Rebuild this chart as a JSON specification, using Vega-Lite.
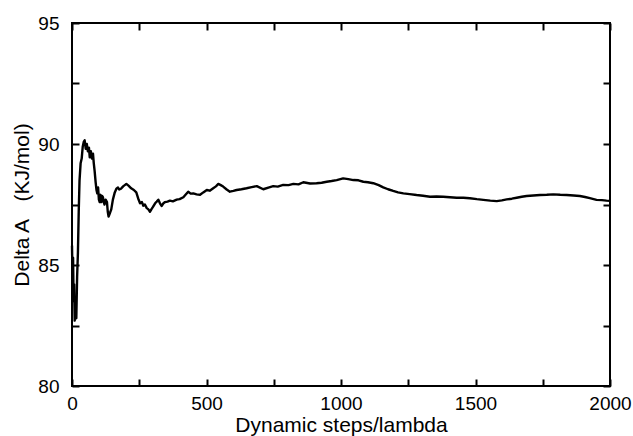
{
  "$schema": "https://vega.github.io/schema/vega-lite/v6.json",
  "width": 538,
  "height": 363,
  "autosize": "none",
  "padding": {"left": 72, "top": 23, "right": 23, "bottom": 50},
  "background": "white",
  "config": {
    "view": {"stroke": "black", "strokeWidth": 2},
    "axis": {
      "domain": false,
      "tickColor": "black",
      "tickWidth": 2,
      "tickSize": 7,
      "offset": -7,
      "grid": false,
      "labelFont": "Liberation Sans",
      "labelFontSize": 19,
      "labelColor": "black",
      "titleFont": "Liberation Sans",
      "titleFontSize": 21,
      "titleFontWeight": "normal",
      "titleColor": "black"
    }
  },
  "data": {
    "values": [
      {"step": 0, "dA": 85.8}, {"step": 2, "dA": 84.5}, {"step": 4, "dA": 85.3}, {"step": 6, "dA": 83.5},
      {"step": 8, "dA": 84.2}, {"step": 10, "dA": 82.7}, {"step": 13, "dA": 83.6}, {"step": 16, "dA": 82.8},
      {"step": 19, "dA": 84.5}, {"step": 22, "dA": 85.5}, {"step": 25, "dA": 87.2}, {"step": 28, "dA": 88.5},
      {"step": 32, "dA": 89.2}, {"step": 36, "dA": 89.4}, {"step": 40, "dA": 89.9}, {"step": 44, "dA": 90.1},
      {"step": 47, "dA": 90.15}, {"step": 51, "dA": 89.8}, {"step": 55, "dA": 90.0}, {"step": 59, "dA": 89.7},
      {"step": 63, "dA": 89.85}, {"step": 66, "dA": 89.45}, {"step": 70, "dA": 89.7}, {"step": 74, "dA": 89.4},
      {"step": 78, "dA": 89.6}, {"step": 81, "dA": 89.2}, {"step": 84, "dA": 88.9}, {"step": 88, "dA": 88.4},
      {"step": 91, "dA": 88.1}, {"step": 94, "dA": 87.96}, {"step": 97, "dA": 88.2}, {"step": 100, "dA": 87.7},
      {"step": 103, "dA": 87.6}, {"step": 106, "dA": 87.9}, {"step": 109, "dA": 87.6}, {"step": 112, "dA": 87.85},
      {"step": 115, "dA": 87.8}, {"step": 118, "dA": 87.6}, {"step": 121, "dA": 87.5}, {"step": 125, "dA": 87.7},
      {"step": 130, "dA": 87.6}, {"step": 133, "dA": 87.2}, {"step": 136, "dA": 87.0}, {"step": 141, "dA": 87.15},
      {"step": 146, "dA": 87.3}, {"step": 152, "dA": 87.7}, {"step": 159, "dA": 88.0}, {"step": 165, "dA": 88.15},
      {"step": 171, "dA": 88.2}, {"step": 176, "dA": 88.12}, {"step": 182, "dA": 88.15}, {"step": 190, "dA": 88.25},
      {"step": 196, "dA": 88.3}, {"step": 202, "dA": 88.35}, {"step": 210, "dA": 88.28}, {"step": 220, "dA": 88.17},
      {"step": 230, "dA": 88.1}, {"step": 239, "dA": 88.0}, {"step": 246, "dA": 87.75}, {"step": 253, "dA": 87.55},
      {"step": 260, "dA": 87.6}, {"step": 265, "dA": 87.45}, {"step": 271, "dA": 87.5}, {"step": 278, "dA": 87.35},
      {"step": 284, "dA": 87.3}, {"step": 290, "dA": 87.2}, {"step": 295, "dA": 87.3}, {"step": 301, "dA": 87.4},
      {"step": 309, "dA": 87.55}, {"step": 315, "dA": 87.62}, {"step": 321, "dA": 87.7}, {"step": 327, "dA": 87.55},
      {"step": 333, "dA": 87.44}, {"step": 340, "dA": 87.55}, {"step": 346, "dA": 87.6}, {"step": 355, "dA": 87.62},
      {"step": 364, "dA": 87.66}, {"step": 375, "dA": 87.63}, {"step": 389, "dA": 87.7}, {"step": 400, "dA": 87.72},
      {"step": 414, "dA": 87.8}, {"step": 422, "dA": 87.9}, {"step": 432, "dA": 88.03}, {"step": 441, "dA": 87.95},
      {"step": 451, "dA": 87.96}, {"step": 463, "dA": 87.92}, {"step": 476, "dA": 87.9}, {"step": 488, "dA": 88.0},
      {"step": 501, "dA": 88.1}, {"step": 512, "dA": 88.07}, {"step": 525, "dA": 88.17}, {"step": 535, "dA": 88.25},
      {"step": 544, "dA": 88.35}, {"step": 553, "dA": 88.3}, {"step": 562, "dA": 88.24}, {"step": 575, "dA": 88.12},
      {"step": 587, "dA": 88.03}, {"step": 600, "dA": 88.06}, {"step": 612, "dA": 88.1}, {"step": 630, "dA": 88.13},
      {"step": 649, "dA": 88.17}, {"step": 668, "dA": 88.22}, {"step": 687, "dA": 88.26}, {"step": 711, "dA": 88.13},
      {"step": 730, "dA": 88.2}, {"step": 748, "dA": 88.26}, {"step": 765, "dA": 88.24}, {"step": 785, "dA": 88.31},
      {"step": 805, "dA": 88.3}, {"step": 823, "dA": 88.35}, {"step": 842, "dA": 88.33}, {"step": 860, "dA": 88.42},
      {"step": 885, "dA": 88.37}, {"step": 909, "dA": 88.38}, {"step": 928, "dA": 88.4}, {"step": 947, "dA": 88.44},
      {"step": 965, "dA": 88.47}, {"step": 984, "dA": 88.51}, {"step": 1008, "dA": 88.58}, {"step": 1027, "dA": 88.55},
      {"step": 1046, "dA": 88.51}, {"step": 1065, "dA": 88.5}, {"step": 1083, "dA": 88.44}, {"step": 1100, "dA": 88.42},
      {"step": 1120, "dA": 88.38}, {"step": 1140, "dA": 88.3}, {"step": 1157, "dA": 88.21}, {"step": 1175, "dA": 88.13},
      {"step": 1194, "dA": 88.06}, {"step": 1212, "dA": 88.0}, {"step": 1232, "dA": 87.96}, {"step": 1255, "dA": 87.93},
      {"step": 1281, "dA": 87.89}, {"step": 1305, "dA": 87.86}, {"step": 1331, "dA": 87.82}, {"step": 1355, "dA": 87.83},
      {"step": 1380, "dA": 87.82}, {"step": 1405, "dA": 87.8}, {"step": 1430, "dA": 87.78}, {"step": 1455, "dA": 87.78},
      {"step": 1479, "dA": 87.76}, {"step": 1505, "dA": 87.72}, {"step": 1529, "dA": 87.69}, {"step": 1555, "dA": 87.66},
      {"step": 1579, "dA": 87.64}, {"step": 1598, "dA": 87.67}, {"step": 1616, "dA": 87.71}, {"step": 1635, "dA": 87.74},
      {"step": 1653, "dA": 87.78}, {"step": 1672, "dA": 87.82}, {"step": 1690, "dA": 87.85}, {"step": 1715, "dA": 87.87},
      {"step": 1740, "dA": 87.89}, {"step": 1765, "dA": 87.9}, {"step": 1789, "dA": 87.92}, {"step": 1815, "dA": 87.9},
      {"step": 1839, "dA": 87.89}, {"step": 1865, "dA": 87.87}, {"step": 1888, "dA": 87.85}, {"step": 1907, "dA": 87.81},
      {"step": 1925, "dA": 87.76}, {"step": 1950, "dA": 87.69}, {"step": 1970, "dA": 87.68}, {"step": 1987, "dA": 87.66},
      {"step": 2000, "dA": 87.65}
    ]
  },
  "layer": [
    {
      "mark": {"type": "line", "color": "black", "strokeWidth": 2.4, "strokeJoin": "round"},
      "encoding": {
        "x": {
          "field": "step", "type": "quantitative",
          "scale": {"domain": [0, 2000], "nice": false},
          "axis": {
            "orient": "bottom",
            "title": "Dynamic steps/lambda",
            "format": "d",
            "values": [0, 250, 500, 750, 1000, 1250, 1500, 1750, 2000],
            "labelExpr": "datum.value % 500 === 0 ? datum.label : ''",
            "labelPadding": 8,
            "titlePadding": 1,
            "labelFlush": false
          }
        },
        "y": {
          "field": "dA", "type": "quantitative",
          "scale": {"domain": [80, 95], "nice": false, "zero": false},
          "axis": {
            "orient": "left",
            "title": "Delta A\u00a0\u00a0\u00a0(KJ/mol)",
            "format": "d",
            "values": [80, 82.5, 85, 87.5, 90, 92.5, 95],
            "labelExpr": "datum.value % 5 === 0 ? datum.label : ''",
            "labelPadding": 13,
            "titlePadding": 5,
            "labelFlush": false
          }
        }
      }
    },
    {
      "mark": {"type": "line", "opacity": 0},
      "encoding": {
        "x": {
          "field": "step", "type": "quantitative",
          "scale": {"domain": [0, 2000], "nice": false},
          "axis": {"orient": "top", "title": null, "labels": false, "values": [0, 250, 500, 750, 1000, 1250, 1500, 1750, 2000]}
        },
        "y": {
          "field": "dA", "type": "quantitative",
          "scale": {"domain": [80, 95], "nice": false, "zero": false},
          "axis": {"orient": "right", "title": null, "labels": false, "values": [80, 82.5, 85, 87.5, 90, 92.5, 95]}
        }
      }
    }
  ],
  "resolve": {"axis": {"x": "independent", "y": "independent"}}
}
